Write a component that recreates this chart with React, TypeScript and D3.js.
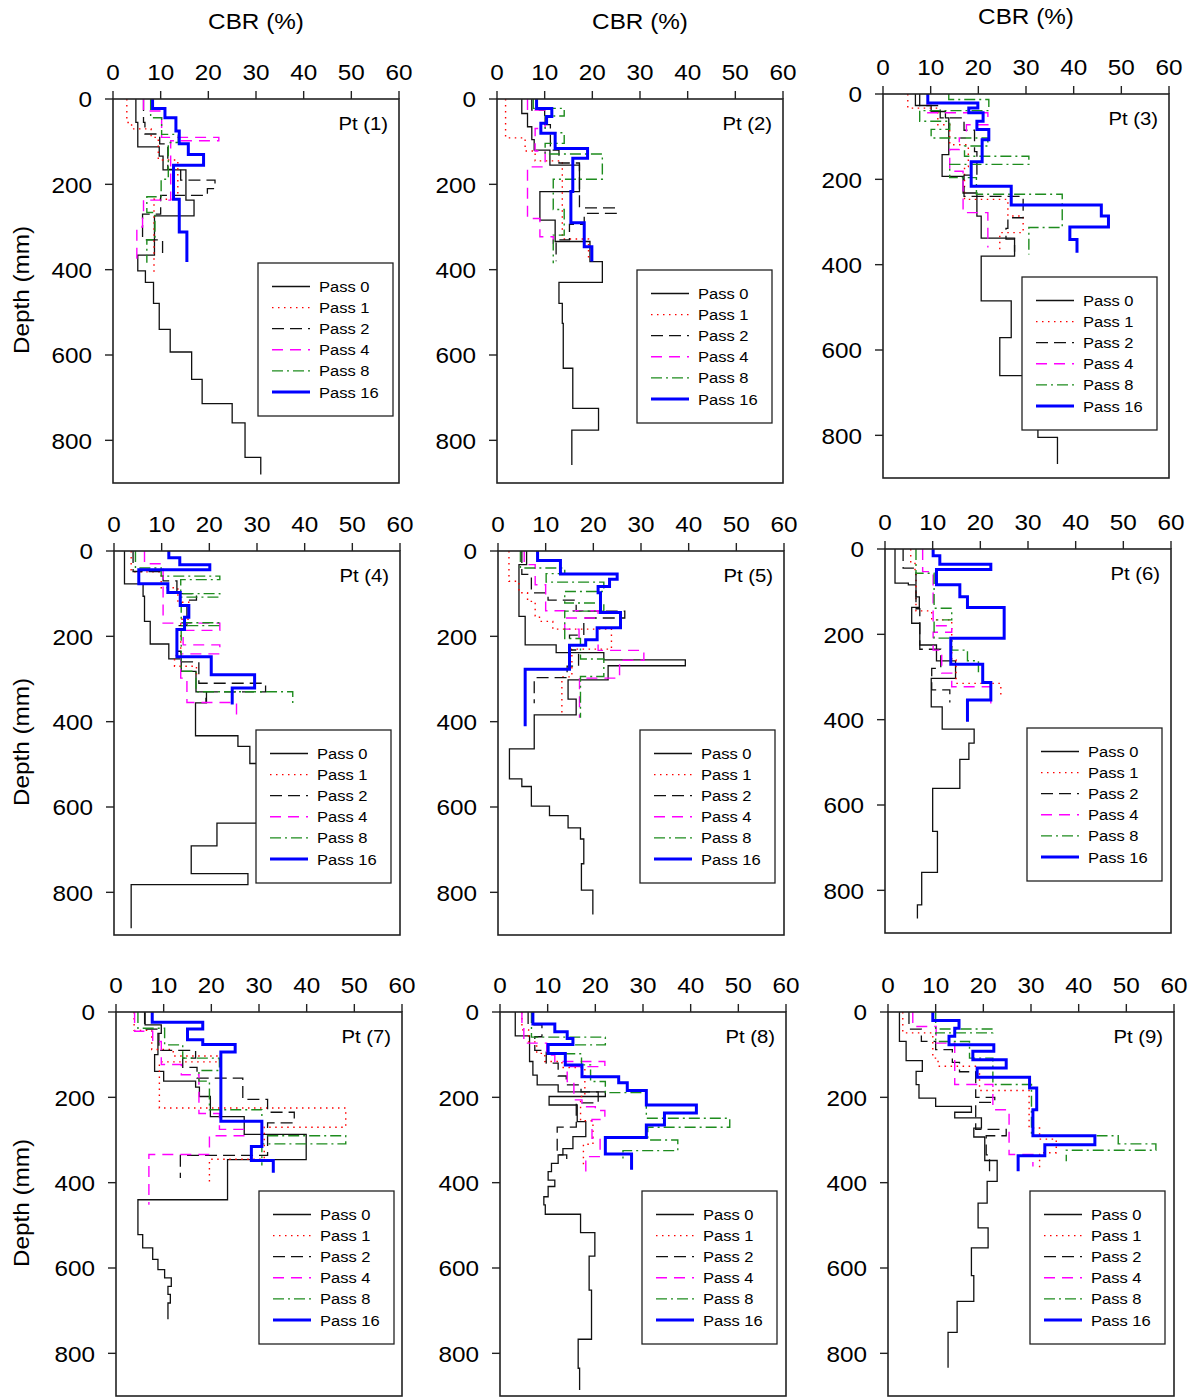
import React from 'react';
import * as d3 from 'd3';

type Layer = [number, number]; // [depth top (mm), CBR (%)]; last entry closes the profile

const xTicks = [0, 10, 20, 30, 40, 50, 60];
const yTicks = [0, 200, 400, 600, 800];
const passLabels = ['Pass 0', 'Pass 1', 'Pass 2', 'Pass 4', 'Pass 8', 'Pass 16'];
const panelTitles = ['Pt (1)', 'Pt (2)', 'Pt (3)', 'Pt (4)', 'Pt (5)', 'Pt (6)', 'Pt (7)', 'Pt (8)', 'Pt (9)'];

// ---- Pt (1)
const p1_0: Layer[] = [[0,4.8],[55,5.2],[112,9.7],[134,10.5],[166,15.3],[237,17],[274,8.7],[366,5.2],[403,6.8],[430,8.5],[479,9.7],[540,12],[593,16.5],[657,18.7],[714,25],[759,27.7],[840,31],[880,31]];
const p1_1: Layer[] = [[0,2.9],[55,3.9],[70,8],[90,9.5],[143,13.6],[235,8.6],[411,8.6]];
const p1_2: Layer[] = [[0,6.4],[55,6.7],[82,9.8],[105,11.5],[165,14.2],[190,21.4],[210,19.8],[226,10],[270,6.2],[330,10.4],[370,10.4]];
const p1_4: Layer[] = [[0,6.4],[28,10.2],[90,22.2],[98,12.1],[237,6.4],[265,6.2],[300,5],[375,5]];
const p1_8: Layer[] = [[0,7.9],[44,10.2],[83,13.7],[102,11.6],[188,10.1],[229,7.1],[266,8.8],[330,7.1],[384,7.1]];
const p1_16: Layer[] = [[0,8.3],[22,10.9],[44,13.2],[75,13.9],[105,15.8],[130,19],[155,12.7],[235,13.9],[312,15.5],[382,15.5]];

// ---- Pt (2)
const p2_0: Layer[] = [[0,5.2],[34,6.4],[65,7.3],[95,7.8],[120,11.1],[155,17.3],[217,9],[284,12.2],[334,19.5],[381,22.1],[430,13],[479,13.7],[526,13.9],[631,15.9],[725,21.3],[776,15.7],[858,15.7]];
const p2_1: Layer[] = [[0,1.8],[91,5.9],[122,8],[145,13.7],[328,19.2],[381,19.2]];
const p2_2: Layer[] = [[0,7.3],[26,10],[60,11.2],[120,13],[150,17.3],[255,25],[268,18.3],[294,15.2],[330,12.4],[380,12.4]];
const p2_4: Layer[] = [[0,6.4],[26,10.1],[69,8],[122,10.1],[159,6.4],[280,9],[323,11.8],[340,11.8]];
const p2_8: Layer[] = [[0,7.6],[22,14.1],[40,10.1],[79,14.1],[104,10.1],[129,22.1],[188,11.8],[259,14.1],[319,11.8],[385,11.8]];
const p2_16: Layer[] = [[0,8.3],[22,11.5],[41,10.4],[57,9.2],[80,12.2],[116,19],[139,15.9],[217,15.5],[290,18.3],[346,19.9],[381,19.9]];

// ---- Pt (3)
const p3_0: Layer[] = [[0,6.8],[27,10.1],[41,13.1],[56,13.8],[142,12.4],[193,16.8],[232,19.7],[286,20.6],[338,27.6],[380,20.6],[485,26.9],[571,24.5],[660,32.5],[805,36.6],[867,36.6]];
const p3_1: Layer[] = [[0,5.2],[33,11.5],[72,14],[119,17.9],[170,17.1],[247,26.2],[286,29.4],[325,24.5],[368,24.5]];
const p3_2: Layer[] = [[0,7.7],[27,12],[56,17],[85,19.2],[135,19.7],[190,17],[240,29.4],[290,26.2],[315,25.8],[340,27.6],[370,27.6]];
const p3_4: Layer[] = [[0,9.4],[44,22],[72,17.5],[103,16],[130,14],[181,16.8],[278,22],[360,22]];
const p3_8: Layer[] = [[0,13.8],[13,22.2],[39,7.7],[64,14],[83,10.1],[103,22],[122,17.1],[146,30.6],[165,14],[196,19.6],[235,37.6],[313,30.6],[376,30.6]];
const p3_16: Layer[] = [[0,9.4],[21,19.9],[33,18],[44,21],[64,19.7],[83,22.2],[107,20.8],[159,18.5],[216,26.9],[260,45.8],[286,47.3],[312,39.2],[341,40.7],[372,40.7]];

// ---- Pt (4)
const p4_0: Layer[] = [[0,2.2],[77,6.1],[106,6.4],[165,7.6],[218,11.5],[253,14.1],[282,17.2],[330,19.4],[356,17.1],[433,26],[458,28.5],[498,36],[638,21.6],[691,16.2],[756,28.1],[782,3.6],[884,3.6]];
const p4_1: Layer[] = [[0,3.6],[49,9.9],[86,13.4],[120,15.7],[160,14],[245,12.7],[270,17.3],[295,17.3]];
const p4_2: Layer[] = [[0,4],[48,10.3],[70,13.2],[100,17.3],[115,15.3],[175,13.2],[235,14],[260,17.8],[310,31.8],[330,19.3],[355,19.3]];
const p4_4: Layer[] = [[0,6.4],[30,10.3],[169,22.2],[186,14.5],[220,22.2],[241,14],[298,15.3],[355,25.7],[391,25.7]];
const p4_8: Layer[] = [[0,4.5],[40,9.9],[59,22.2],[67,14],[100,22.2],[108,14.1],[168,22.2],[175,14.1],[282,17.2],[330,37.5],[357,37.5]];
const p4_16: Layer[] = [[0,11.5],[16,13.8],[32,20.1],[44,5.2],[77,11.3],[97,13.9],[128,15.7],[155,14.8],[184,13.2],[248,20.4],[290,29.5],[321,24.8],[360,24.8]];

// ---- Pt (5)
const p5_0: Layer[] = [[0,6],[32,4.4],[153,5.7],[220,12.2],[238,22.2],[255,39.3],[269,23.1],[302,14.7],[347,16.4],[384,7.6],[464,2.4],[534,5],[552,7],[598,10.8],[620,14.7],[649,17.3],[675,18],[733,17.5],[795,19.9],[852,19.9]];
const p5_1: Layer[] = [[0,2.3],[71,4.4],[98,6.2],[118,7.8],[152,8.7],[165,11.5],[183,23.8],[230,15.5],[295,13.4],[380,13.4]];
const p5_2: Layer[] = [[0,5],[55,7],[98,10.5],[115,16.4],[141,26.6],[157,18],[197,15],[232,16.9],[270,14.5],[297,7.6],[357,7.6]];
const p5_4: Layer[] = [[0,5.5],[32,7.8],[79,10],[140,21],[157,14],[183,17],[208,21],[233,30.6],[256,25.5],[298,17.1],[391,17.1]];
const p5_8: Layer[] = [[0,4.7],[40,14],[53,10.1],[73,22.2],[95,14],[122,22.2],[141,14],[205,17.3],[253,22.2],[294,17.3],[391,17.3]];
const p5_16: Layer[] = [[0,8.3],[22,13.1],[54,25],[66,23.4],[83,21],[98,21.5],[144,25.7],[180,20.8],[208,18.4],[221,15],[277,5.7],[411,5.7]];

// ---- Pt (6)
const p6_0: Layer[] = [[0,2.1],[80,4.9],[84,6.5],[112,7.2],[137,5.6],[174,7.3],[225,10.8],[262,14.8],[303,9.7],[370,12],[422,18.7],[455,17.6],[493,15.7],[561,10],[662,11],[758,7.7],[834,6.8],[866,6.8]];
const p6_1: Layer[] = [[0,5.4],[30,6.3],[60,6.5],[145,9.8],[166,14],[260,14.9],[315,24.3],[345,24.3]];
const p6_2: Layer[] = [[0,3.8],[45,6.5],[140,7.3],[235,11.7],[280,9.8],[330,13.6],[360,13.6]];
const p6_4: Layer[] = [[0,7.9],[53,10.1],[180,14],[195,10.1],[237,11.9],[291,14],[323,22.2],[362,22.2]];
const p6_8: Layer[] = [[0,6.5],[57,10.3],[139,14],[166,10.3],[209,14],[237,17.3],[262,19.6],[292,19.6]];
const p6_16: Layer[] = [[0,10.1],[16,11.5],[36,22.2],[48,10.8],[84,15.7],[112,17.3],[137,25],[209,13.8],[270,20.5],[313,22.2],[354,17.3],[405,17.3]];

// ---- Pt (7)
const p7_0: Layer[] = [[0,6.1],[30,9.5],[50,8.8],[100,8.1],[139,10],[162,16.7],[176,17.5],[198,19.8],[245,26.9],[287,39.9],[346,23.4],[440,4.6],[522,5.6],[553,7.7],[580,8.8],[604,10.2],[623,11.6],[643,10.9],[662,11.4],[682,10.9],[720,10.9]];
const p7_1: Layer[] = [[0,3.8],[43,7.5],[88,12],[103,21.7],[117,9.1],[225,48.2],[270,31.1],[345,19.6],[397,19.6]];
const p7_2: Layer[] = [[0,6],[40,9],[90,16.7],[108,14],[130,17],[155,26.6],[205,31.8],[235,37.4],[260,31.8],[336,13.5],[389,13.5]];
const p7_4: Layer[] = [[0,3.9],[45,7.7],[69,9.5],[123,13.7],[147,17.4],[238,21.7],[275,27],[290,19.6],[334,6.9],[452,6.9]];
const p7_8: Layer[] = [[0,4.6],[38,10.2],[77,14],[108,21.7],[137,17.4],[162,19.6],[229,30.6],[290,48.2],[309,30.6],[360,30.6]];
const p7_16: Layer[] = [[0,7.6],[24,18.2],[40,15],[65,18.2],[76,25],[94,22],[256,30.6],[315,28.4],[348,33],[377,33]];

// ---- Pt (8)
const p8_0: Layer[] = [[0,3.2],[56,6.2],[116,6.9],[148,7.8],[171,12.2],[187,22.1],[198,10.3],[218,16.2],[257,18],[292,15.3],[320,13.2],[335,12.2],[355,10.8],[374,10.1],[394,11.5],[409,10.1],[433,9.2],[452,9.5],[474,16.9],[517,19.9],[572,18.7],[652,19.2],[767,16.4],[835,16.7],[886,16.7]];
const p8_1: Layer[] = [[0,4.6],[42,6],[70,7.7],[97,9.4],[116,13],[130,17.8],[198,16.9],[255,19.5],[310,17.5],[360,17.5]];
const p8_2: Layer[] = [[0,5.9],[30,8.8],[58,7.3],[90,9.7],[120,12.2],[150,13.9],[171,17],[187,20.6],[213,16],[270,12],[335,14],[358,14]];
const p8_4: Layer[] = [[0,4.6],[27,5],[73,9.8],[101,11.5],[116,22],[128,14.1],[163,15.5],[206,17.2],[222,20],[231,22],[252,19.3],[296,21],[339,18],[390,18]];
const p8_8: Layer[] = [[0,6.6],[59,22.1],[77,10.1],[98,17.1],[124,19],[163,22.1],[189,30.7],[249,48.2],[270,31],[300,37.3],[325,25.8],[351,25.8]];
const p8_16: Layer[] = [[0,6.9],[28,11.5],[46,14.1],[62,15.3],[76,10.1],[97,13.7],[124,17.2],[152,24.9],[166,26.7],[184,30.7],[218,41.2],[237,34.5],[265,30.7],[294,22.1],[333,27.6],[370,27.6]];

// ---- Pt (9)
const p9_0: Layer[] = [[0,2.4],[69,3.8],[114,7.2],[139,5.9],[170,6.5],[202,10],[221,17.5],[235,14],[248,19.6],[272,18],[293,20.3],[348,22.9],[397,20.8],[448,18.9],[506,21],[553,17.5],[618,18],[678,14.5],[751,12.6],[834,12.6]];
const p9_1: Layer[] = [[0,3.1],[49,9.4],[108,10.5],[127,19.2],[184,29.6],[272,31.8],[298,35.3],[330,31.8],[370,31.8]];
const p9_2: Layer[] = [[0,4.4],[40,7],[69,10],[88,13.5],[118,15],[140,18.4],[200,22.4],[212,18.4],[275,24.8],[290,20.6],[335,21.3],[377,21.3]];
const p9_4: Layer[] = [[0,5.2],[34,10.1],[73,14],[170,22],[229,25.4],[334,30.4],[362,30.4]];
const p9_8: Layer[] = [[0,10],[40,22],[49,10],[69,17.1],[108,22],[170,30.1],[290,48.3],[309,56.2],[324,37.4],[350,37.4]];
const p9_16: Layer[] = [[0,9.4],[20,14.9],[38,14],[57,12.8],[77,22.2],[92,17.8],[112,24.8],[131,18.7],[153,29.7],[178,31.2],[229,30.4],[290,43.4],[311,32.9],[337,27.3],[373,27.3]];

const panelSeries: Layer[][][] = [
  [p1_0, p1_1, p1_2, p1_4, p1_8, p1_16],
  [p2_0, p2_1, p2_2, p2_4, p2_8, p2_16],
  [p3_0, p3_1, p3_2, p3_4, p3_8, p3_16],
  [p4_0, p4_1, p4_2, p4_4, p4_8, p4_16],
  [p5_0, p5_1, p5_2, p5_4, p5_8, p5_16],
  [p6_0, p6_1, p6_2, p6_4, p6_8, p6_16],
  [p7_0, p7_1, p7_2, p7_4, p7_8, p7_16],
  [p8_0, p8_1, p8_2, p8_4, p8_8, p8_16],
  [p9_0, p9_1, p9_2, p9_4, p9_8, p9_16],
];

// ---- layout / styling
const FONT = '"Liberation Sans", Arial, Helvetica, sans-serif';
const PW = 286;
const PH = 384;
const panelPos = [
  { left: 113, top: 99, legL: 145, legT: 164 },
  { left: 497, top: 99, legL: 140, legT: 171 },
  { left: 883, top: 94, legL: 139, legT: 183 },
  { left: 114, top: 551, legL: 142, legT: 179 },
  { left: 498, top: 551, legL: 142, legT: 179 },
  { left: 885, top: 549, legL: 142, legT: 179 },
  { left: 116, top: 1012, legL: 143, legT: 179 },
  { left: 500, top: 1012, legL: 142, legT: 179 },
  { left: 888, top: 1012, legL: 142, legT: 179 },
];
const seriesStyle = [
  { stroke: '#111111', width: 1.3, dash: undefined as string | undefined },
  { stroke: '#ff0000', width: 1.4, dash: '1.5,4.5' },
  { stroke: '#111111', width: 1.3, dash: '12,6' },
  { stroke: '#ff00ff', width: 1.4, dash: '11,7' },
  { stroke: '#1e8c1e', width: 1.4, dash: '11,4,2,4' },
  { stroke: '#0000ff', width: 3, dash: undefined as string | undefined },
];

const T: React.FC<{
  x: number;
  y: number;
  size: number;
  sx: number;
  anchor?: 'start' | 'middle' | 'end';
  baseline?: string;
  rotate?: number;
  children: React.ReactNode;
}> = ({ x, y, size, sx, anchor = 'start', baseline, rotate = 0, children }) => (
  <text
    transform={`translate(${x},${y}) rotate(${rotate}) scale(${sx},1)`}
    textAnchor={anchor}
    dominantBaseline={baseline}
    fontSize={size}
    fontFamily={FONT}
    fill="#000"
  >
    {children}
  </text>
);

const Panel: React.FC<{ idx: number }> = ({ idx }) => {
  const pos = panelPos[idx];
  const x = d3.scaleLinear().domain([0, 60]).range([0, PW]);
  const y = d3.scaleLinear().domain([0, 900]).range([0, PH]);
  const line = d3
    .line<Layer>()
    .x((d) => x(d[1]))
    .y((d) => y(d[0]))
    .curve(d3.curveStepBefore);
  const row = Math.floor(idx / 3);
  const col = idx % 3;
  const legW = 135;
  const legH = 153;
  return (
    <g transform={`translate(${pos.left},${pos.top})`}>
      {row === 0 && (
        <T x={PW / 2} y={-70} size={21.5} sx={1.13} anchor="middle">
          CBR (%)
        </T>
      )}
      {col === 0 && (
        <T x={22 - pos.left} y={PH / 2 - 1} size={21.5} sx={1.13} anchor="middle" baseline="central" rotate={-90}>
          Depth (mm)
        </T>
      )}
      {panelSeries[idx].map((s, i) => (
        <path
          key={i}
          d={line(s) || ''}
          fill="none"
          stroke={seriesStyle[i].stroke}
          strokeWidth={seriesStyle[i].width}
          strokeDasharray={seriesStyle[i].dash}
          strokeLinejoin="miter"
        />
      ))}
      <rect x={0} y={0} width={PW} height={PH} fill="none" stroke="#222" strokeWidth={1.6} />
      {xTicks.map((t) => (
        <g key={'x' + t}>
          <line x1={x(t)} x2={x(t)} y1={0} y2={-8} stroke="#222" strokeWidth={1.4} />
          <T x={x(t)} y={-19} size={21.5} sx={1.13} anchor="middle">
            {t}
          </T>
        </g>
      ))}
      {yTicks.map((t) => (
        <g key={'y' + t}>
          <line x1={0} x2={-8} y1={y(t)} y2={y(t)} stroke="#222" strokeWidth={1.4} />
          <T x={-21} y={y(t) + 1} size={21.5} sx={1.13} anchor="end" baseline="central">
            {t}
          </T>
        </g>
      ))}
      <T x={PW - 11} y={31} size={18.8} sx={1.08} anchor="end">
        {panelTitles[idx]}
      </T>
      <g transform={`translate(${pos.legL},${pos.legT})`}>
        <rect x={0} y={0} width={legW} height={legH} fill="#fff" stroke="#222" strokeWidth={1.3} />
        {passLabels.map((lab, i) => {
          const ly = 23.5 + i * 21.1;
          const st = seriesStyle[i];
          return (
            <g key={lab}>
              <line
                x1={14}
                x2={52}
                y1={ly}
                y2={ly}
                stroke={st.stroke}
                strokeWidth={st.width}
                strokeDasharray={st.dash}
              />
              <T x={61} y={ly + 5.5} size={15.3} sx={1.08}>
                {lab}
              </T>
            </g>
          );
        })}
      </g>
    </g>
  );
};

export default function App() {
  return (
    <svg
      width={1193}
      height={1397}
      viewBox="0 0 1193 1397"
      style={{ position: 'absolute', left: 0, top: 0, background: '#fff' }}
    >
      <rect x={0} y={0} width={1193} height={1397} fill="#fff" />
      {panelPos.map((_, i) => (
        <Panel key={i} idx={i} />
      ))}
    </svg>
  );
}
